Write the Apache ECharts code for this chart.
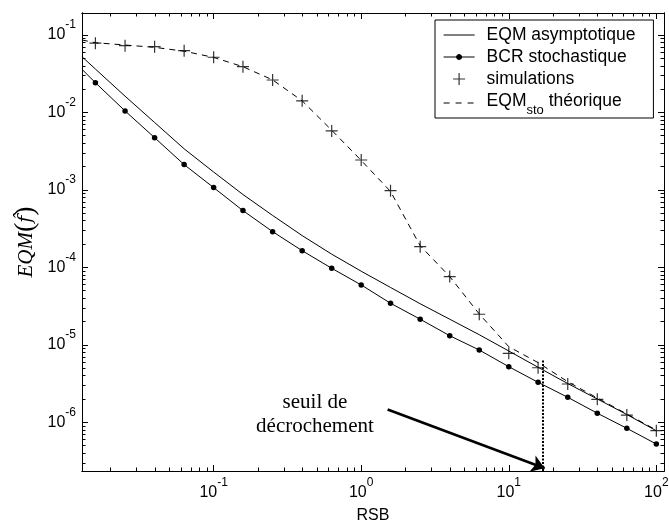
<!DOCTYPE html>
<html>
<head>
<meta charset="utf-8">
<script src="https://cdn.jsdelivr.net/npm/echarts@6/dist/echarts.min.js"></script>
<style>
html, body { margin: 0; padding: 0; background: #fff; }
#chart { width: 669px; height: 522px; }
</style>
</head>
<body>
<div id="chart"></div>
<script>
// RSB (signal-to-noise ratio) abscissae of the marked points
const rsb = [0.0158, 0.0251, 0.0398, 0.0631, 0.1, 0.158, 0.251, 0.398, 0.631, 1,
             1.58, 2.51, 3.98, 6.31, 10, 15.8, 25.1, 39.8, 63.1, 100];
// left end of the plotted curves
const rsbStart = 0.0128;

// EQM asymptotique (solid line)
const eqmAsymStart = 0.0525;
const eqmAsym = [0.0363, 0.0162, 0.00741, 0.00339, 0.0017, 8.71e-4, 4.68e-4, 2.57e-4, 1.48e-4, 8.91e-5,
                 5.50e-5, 3.39e-5, 2.14e-5, 1.35e-5, 8.32e-6, 5.13e-6, 3.16e-6, 2.0e-6, 1.26e-6, 7.76e-7];

// BCR stochastique (line with dots)
const bcrStart = 0.0361;
const bcr = [0.0242, 0.01045, 0.00472, 0.00212, 0.00107, 5.40e-4, 2.89e-4, 1.64e-4, 9.73e-5, 5.93e-5,
             3.44e-5, 2.14e-5, 1.31e-5, 8.57e-6, 5.22e-6, 3.28e-6, 2.10e-6, 1.31e-6, 8.36e-7, 5.24e-7];

// simulations (+ markers)
const simulations = [0.0782, 0.0728, 0.0706, 0.0627, 0.0515, 0.0390, 0.0262, 0.0141, 0.00577, 0.00243,
                     9.77e-4, 1.85e-4, 7.59e-5, 2.48e-5, 7.76e-6, 5.06e-6, 3.12e-6, 1.98e-6, 1.24e-6, 7.78e-7];

// EQM_sto théorique (dashed line)
const eqmStoStart = 0.0861;
const eqmSto = [0.0794, 0.0741, 0.0692, 0.0617, 0.0513, 0.0389, 0.0263, 0.0141, 0.00589, 0.0024,
                9.55e-4, 1.9e-4, 7.6e-5, 2.5e-5, 9.46e-6, 5.89e-6, 3.34e-6, 2.06e-6, 1.28e-6, 7.94e-7];

// axis decades shown with labels
const xDecades = [-1, 0, 1, 2];
const yDecades = [-6, -5, -4, -3, -2, -1];

// axis extents (RSB and EQM values)
const xRange = [0.01282, 112.7];
const yRange = [2.35e-7, 0.192];

// threshold annotation
const seuilRsb = 17;
const seuilTopEqm = 6.27e-6;
const arrowFrom = [1.51, 1.46e-6];
const arrowTo = [17.5, 2.55e-7];
const seuilTextAt = [0.486, 1.26e-6];
const seuilText = 'seuil de\nd\u00e9crochement';

const L = Math.log10;
const pairs = (xs, ys) => xs.map((x, i) => [L(x), L(ys[i])]);

const X_MIN = L(xRange[0]), X_MAX = L(xRange[1]);
const Y_MIN = L(yRange[0]), Y_MAX = L(yRange[1]);

// minor tick positions k * 10^e inside (lo, hi)
function minorTicks(lo, hi) {
  const out = [];
  for (let e = Math.floor(lo) - 1; e <= Math.ceil(hi); e++) {
    for (let k = 2; k <= 9; k++) {
      const v = e + Math.log10(k);
      if (v > lo && v < hi) out.push(v);
    }
  }
  return out;
}

const tickFont = 'Liberation Sans, Arial, sans-serif';
// "10" centred in a tall line, exponent pinned to the top of it
const powRich = {
  b: { fontFamily: tickFont, fontSize: 16, lineHeight: 32, color: '#000' },
  s: { fontFamily: tickFont, fontSize: 12, lineHeight: 15, verticalAlign: 'top', color: '#000' }
};
const powLabel = v => '{b|10}{s|' + Math.round(v) + '}';

function makeAxis(dim, position, ticks, len, labels) {
  const isX = dim === 'x';
  const ax = {
    type: 'value',
    position: position,
    min: isX ? X_MIN : Y_MIN,
    max: isX ? X_MAX : Y_MAX,
    axisLine: { show: true, onZero: false, lineStyle: { color: '#000', width: 1 } },
    splitLine: { show: false },
    axisTick: { show: true, inside: true, length: len, customValues: ticks,
                lineStyle: { color: '#000', width: 1 } },
    axisLabel: { show: false },
    axisPointer: { show: false }
  };
  if (labels) {
    ax.axisLabel = {
      show: true, customValues: isX ? xDecades : yDecades, margin: 6,
      formatter: powLabel, rich: powRich, color: '#000'
    };
  }
  return ax;
}

const xMinor = minorTicks(X_MIN, X_MAX);
const yMinor = minorTicks(Y_MIN, Y_MAX);

const xAxes = [
  makeAxis('x', 'bottom', xDecades, 6, true),
  makeAxis('x', 'bottom', xMinor, 3.5, false),
  makeAxis('x', 'top', xDecades, 6, false),
  makeAxis('x', 'top', xMinor, 3.5, false)
];
xAxes[0].name = 'RSB';
xAxes[0].nameLocation = 'middle';
xAxes[0].nameGap = 37;
xAxes[0].nameMoveOverlap = false;
xAxes[0].nameTextStyle = { fontFamily: tickFont, fontSize: 16, color: '#000' };

const yAxes = [
  makeAxis('y', 'left', yDecades, 6, true),
  makeAxis('y', 'left', yMinor, 3.5, false),
  makeAxis('y', 'right', yDecades, 6, false),
  makeAxis('y', 'right', yMinor, 3.5, false)
];
yAxes[0].name = '{e|EQM}{p|(}{f|f\u0302}{p|)}';
yAxes[0].nameLocation = 'middle';
yAxes[0].nameRotate = 90;
yAxes[0].nameGap = 42;
yAxes[0].nameMoveOverlap = false;
yAxes[0].nameTextStyle = {
  color: '#000',
  rich: {
    e: { fontFamily: 'Liberation Serif, serif', fontStyle: 'italic', fontSize: 21, color: '#000' },
    f: { fontFamily: 'DejaVu Serif, serif', fontStyle: 'italic', fontSize: 19, color: '#000' },
    p: { fontFamily: 'Liberation Serif, serif', fontSize: 28, color: '#000' }
  }
};

const blackLine = { color: '#000', width: 1 };

const option = {
  animation: false,
  backgroundColor: '#fff',
  grid: { left: 82, top: 13, width: 582, height: 458, show: false,
          containLabel: false, outerBoundsMode: 'none' },
  xAxis: xAxes,
  yAxis: yAxes,
  legend: {
    orient: 'vertical',
    left: 435, top: 20,
    padding: [6, 18, 1, 8],
    itemWidth: 38, itemHeight: 14, itemGap: 4,
    selectedMode: false,
    backgroundColor: '#fff',
    borderColor: '#000', borderWidth: 1, borderRadius: 0,
    textStyle: {
      fontFamily: tickFont, fontSize: 17.5, lineHeight: 16, color: '#000',
      rich: {
        n: { fontFamily: tickFont, fontSize: 17.5, lineHeight: 18, verticalAlign: 'top', color: '#000' },
        sub: { fontFamily: tickFont, fontSize: 13, lineHeight: 13, verticalAlign: 'top',
               padding: [12, 0, 0, 0], color: '#000' }
      }
    },
    formatter: name => name === 'EQMsto th\u00e9orique'
      ? '{n|EQM}{sub|sto}{n| th\u00e9orique}' : name,
    data: [
      { name: 'EQM asymptotique', icon: 'path://M0,0M0,7L31,7M38,14',
        itemStyle: { color: '#000', borderColor: '#000', borderWidth: 1 } },
      { name: 'BCR stochastique',
        icon: 'path://M0,0M0,7L31,7M38,14M18,7A2.5,2.5,0,1,1,13,7A2.5,2.5,0,1,1,18,7Z',
        itemStyle: { color: '#000', borderColor: '#000', borderWidth: 1 } },
      { name: 'simulations', icon: 'path://M0,0M9.5,7L21.5,7M15.5,1L15.5,13M38,14',
        itemStyle: { color: 'transparent', borderColor: '#000', borderWidth: 1.2 } },
      { name: 'EQMsto th\u00e9orique',
        icon: 'path://M0,0M0,9L6,9M12,9L18,9M24,9L30,9M38,14',
        itemStyle: { color: 'transparent', borderColor: '#000', borderWidth: 1 } }
    ]
  },
  series: [
    {
      name: 'EQM asymptotique', type: 'line', symbol: 'none',
      data: [[L(rsbStart), L(eqmAsymStart)]].concat(pairs(rsb, eqmAsym)),
      lineStyle: blackLine, itemStyle: { color: '#000' }, z: 3,
      markLine: {
        silent: true, animation: false, label: { show: false },
        data: [
          [
            { coord: [L(seuilRsb), L(seuilTopEqm)], symbol: 'none',
              lineStyle: { color: '#000', width: 2, type: [2, 1.5] } },
            { coord: [L(seuilRsb), Y_MIN], symbol: 'none' }
          ],
          [
            { coord: [L(arrowFrom[0]), L(arrowFrom[1])], symbol: 'none',
              lineStyle: { color: '#000', width: 2.6, type: 'solid' } },
            { coord: [L(arrowTo[0]), L(arrowTo[1])], symbol: 'arrow', symbolSize: 13 }
          ]
        ]
      },
      markPoint: {
        silent: true, animation: false,
        symbol: 'circle', symbolSize: 1,
        itemStyle: { color: 'transparent' },
        label: {
          show: true, position: 'inside', formatter: seuilText,
          fontFamily: 'Liberation Serif, Times New Roman, serif', fontSize: 21, lineHeight: 24,
          color: '#000', align: 'center', verticalAlign: 'middle'
        },
        data: [{ coord: [L(seuilTextAt[0]), L(seuilTextAt[1])] }]
      }
    },
    {
      name: 'BCR stochastique', type: 'line', symbol: 'circle', symbolSize: 5.5,
      data: [{ value: [L(rsbStart), L(bcrStart)], symbol: 'none' }].concat(pairs(rsb, bcr)),
      lineStyle: blackLine, itemStyle: { color: '#000' }, z: 3
    },
    {
      name: 'simulations', type: 'scatter',
      symbol: 'path://M0,6L12,6M6,0L6,12', symbolSize: 12,
      data: pairs(rsb, simulations),
      itemStyle: { color: 'transparent', borderColor: '#000', borderWidth: 1.2 }, z: 4
    },
    {
      name: 'EQMsto th\u00e9orique', type: 'line', symbol: 'none',
      data: [[L(rsbStart), L(eqmStoStart)]].concat(pairs(rsb, eqmSto)),
      lineStyle: { color: '#000', width: 1, type: [6, 5] }, itemStyle: { color: '#000' }, z: 2
    }
  ]
};

const chart = echarts.init(document.getElementById('chart'), null, { renderer: 'canvas' });
chart.setOption(option);
</script>
</body>
</html>
